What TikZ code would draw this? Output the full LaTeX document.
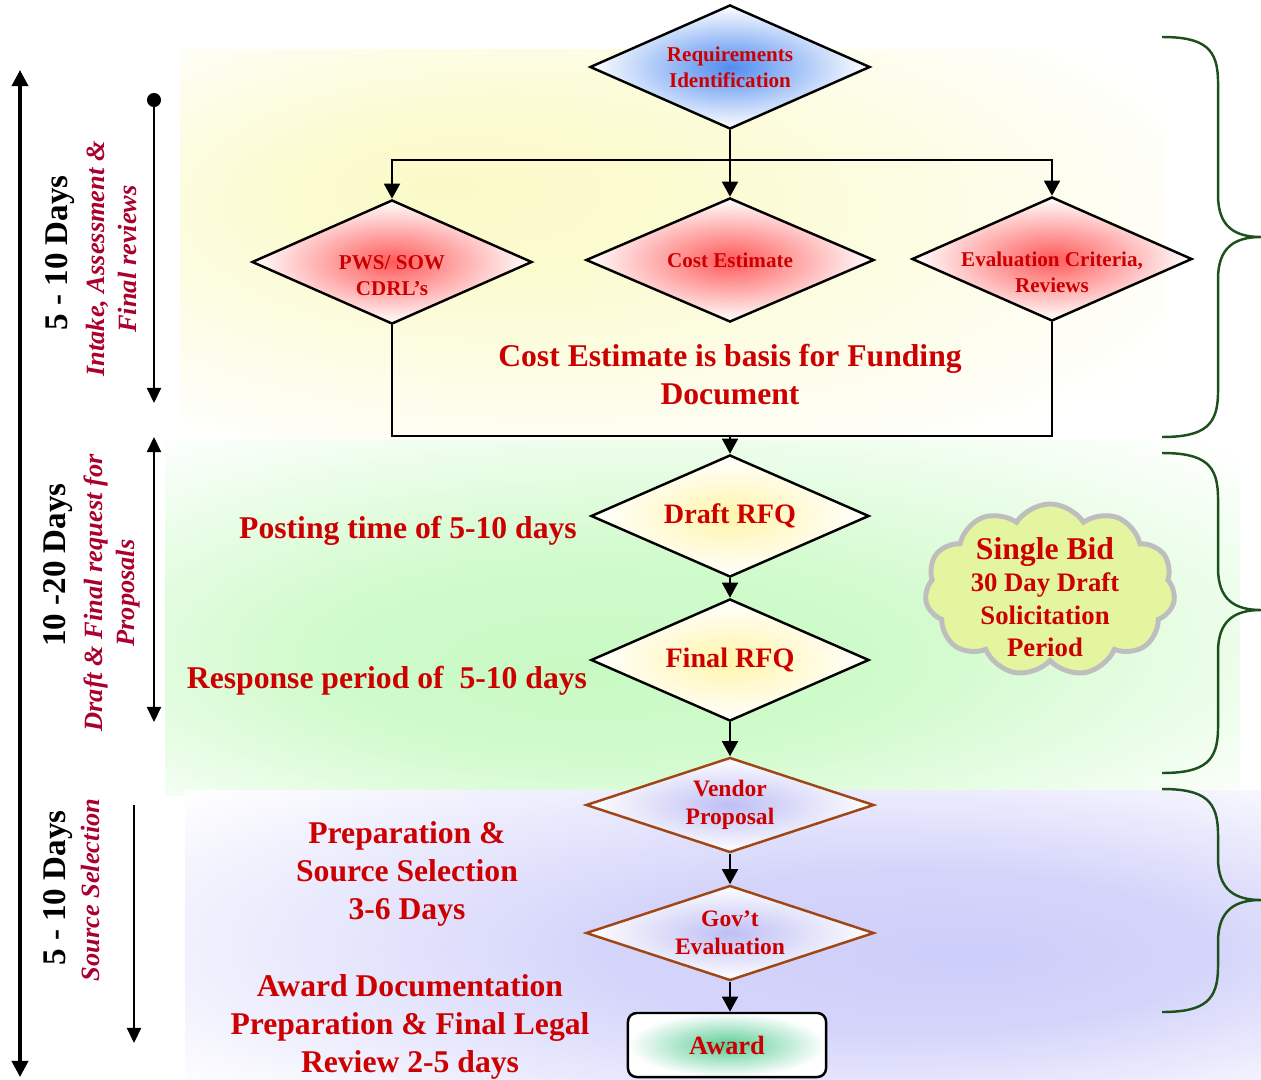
\documentclass[tikz,border=0pt]{standalone}
\usepackage{fontspec}
\setmainfont{Liberation Serif}
\usepackage{tikz}
\usetikzlibrary{shapes.geometric,shapes.symbols,arrows.meta}
\definecolor{boxred}{RGB}{204,0,0}
\definecolor{phasered}{RGB}{170,0,45}
\definecolor{bracegreen}{RGB}{30,80,30}
\definecolor{vendorbrown}{RGB}{160,70,20}
\definecolor{cloudfill}{RGB}{228,245,160}
\definecolor{cloudgray}{RGB}{190,190,190}
\definecolor{reqblue}{RGB}{80,140,240}
\definecolor{costred}{RGB}{255,90,90}
\definecolor{rfqyellow}{RGB}{255,245,170}
\definecolor{proplilac}{RGB}{190,190,245}
\definecolor{awardgreen}{RGB}{90,205,150}
\definecolor{bgyellow}{RGB}{250,250,200}
\definecolor{bggreen}{RGB}{200,250,195}
\definecolor{bgblue}{RGB}{205,205,250}
\pgfdeclareradialshading{yellowglow}{\pgfpoint{-12bp}{8bp}}{color(0bp)=(bgyellow); color(10bp)=(bgyellow!85!white); color(34bp)=(white); color(50bp)=(white)}
\pgfdeclareradialshading{greenglow}{\pgfpoint{-6bp}{-8bp}}{color(0bp)=(bggreen); color(14bp)=(bggreen!85!white); color(37bp)=(white); color(50bp)=(white)}
\pgfdeclareradialshading{blueglow}{\pgfpoint{12bp}{-4bp}}{color(0bp)=(bgblue); color(14bp)=(bgblue!85!white); color(38bp)=(white); color(50bp)=(white)}

\begin{document}
\begin{tikzpicture}[x=0.01cm, y=-0.01cm,
    dia/.style={diamond, draw=black, line width=0.7pt, inner sep=-2pt, aspect=2.26,
        minimum width=2.8cm, minimum height=1.24cm, align=center, text=boxred,
        font=\bfseries\fontsize{6}{7.4}\selectfont},
    diatext/.style={text=boxred, align=center, font=\bfseries\fontsize{6}{7.4}\selectfont},
    reqdia/.style={dia, inner color=reqblue, outer color=white},
    reddia/.style={dia, inner color=costred, outer color=white},
    rfqdia/.style={dia, minimum width=2.78cm, minimum height=1.22cm,
        inner color=rfqyellow, outer color=white,
        font=\bfseries\fontsize{8}{9.6}\selectfont},
    propdia/.style={dia, draw=vendorbrown, aspect=3.03, minimum width=2.88cm,
        minimum height=0.95cm, inner color=proplilac, outer color=white,
        font=\bfseries\fontsize{6.7}{8}\selectfont},
    awardbox/.style={draw=black, line width=0.7pt, rounded corners=2.5pt,
        minimum width=1.98cm, minimum height=0.64cm, inner color=awardgreen,
        outer color=white, text=boxred, font=\bfseries\fontsize{7.5}{9}\selectfont},
    bigred/.style={text=boxred, align=center, font=\bfseries\fontsize{9}{10.8}\selectfont},
    days/.style={rotate=90, font=\bfseries\fontsize{9.4}{11}\selectfont},
    phase/.style={rotate=90, text=phasered, align=center,
        font=\bfseries\itshape\fontsize{7.5}{9.1}\selectfont},
    flow/.style={line width=0.7pt, -{Triangle[width=4.5pt,length=4.3pt]}},
    timeline/.style={line width=1pt, {Triangle[width=4.6pt,length=4.6pt]}-{Triangle[width=4.6pt,length=4.6pt]}},
    phasearrow/.style={line width=0.65pt}
]
\useasboundingbox (0,0) rectangle (1261,1079);

% background glows
\shade[shading=yellowglow] (180,50) rectangle (1165,445);
\shade[shading=greenglow] (165,440) rectangle (1240,795);
\shade[shading=blueglow] (185,790) rectangle (1261,1079);

% flow chart
\node[reqdia] (req) at (730,67) {Requirements\\Identification};
\node[reddia] (pws) at (392,262) {};
\node[diatext] (pws-text) at (392,276) {PWS/ SOW\\CDRL’s};
\node[reddia, minimum width=2.88cm] (cost) at (730,260) {Cost Estimate};
\node[reddia] (eval) at (1052,259) {};
\node[diatext] (eval-text) at (1052,272) {Evaluation Criteria,\\Reviews};
\node[rfqdia] (draft) at (730,516) {Draft RFQ};
\node[rfqdia] (final) at (730,660) {Final RFQ};
\node[propdia] (vendor) at (730,805) {Vendor\\Proposal};
\node[propdia] (gov) at (730,933) {Gov’t\\Evaluation};
\node[awardbox] (award) at (727,1045) {Award};

\coordinate (fork) at (730,160);
\coordinate (merge) at (730,436);
\draw[line width=0.7pt] (req.south) -- (fork);
\draw[flow] (fork) -| (pws.north);
\draw[flow] (fork) -- (cost.north);
\draw[flow] (fork) -| (eval.north);
\draw[line width=0.7pt] (pws.south) |- (merge) -| (eval.south);
\draw[flow] (merge) -- (draft.north);
\draw[flow] (draft.south) -- (final.north);
\draw[flow] (final.south) -- (vendor.north);
\draw[flow] (vendor.south) -- (gov.north);
\draw[flow] (gov.south) -- (gov.south |- award.north);

% notes
\node[bigred] (funding) at (730,375) {Cost Estimate is basis for Funding\\Document};
\node[bigred] (posting) at (408,531) {Posting time of 5-10 days};
\node[bigred] (response) at (387,681) {Response period of \ 5-10 days};
\node[bigred] (prep) at (407,874) {Preparation \&\\Source Selection\\3-6 Days};
\node[bigred] (awarddoc) at (410,1027) {Award Documentation\\Preparation \& Final Legal\\Review 2-5 days};

% single bid cloud
\node[cloud, cloud puffs=11, cloud puff arc=115, aspect=1.45, draw=cloudgray,
    line width=1.4pt, fill=cloudfill, inner sep=0pt,
    minimum width=2.5cm, minimum height=1.72cm] (bid) at (1050,590) {};
\node[text=boxred, align=center, font=\bfseries\fontsize{7.6}{9.2}\selectfont]
    (bidtext) at (1045,597) {{\fontsize{9}{9.2}\selectfont Single Bid}\\30 Day Draft\\Solicitation\\Period};

% time line on the left
\coordinate (all-top) at (20,70);
\coordinate (all-bot) at (20,1077);
\draw[timeline] (all-top) -- (all-bot);
\coordinate (p1-top) at (154,100);
\coordinate (p1-bot) at (154,403);
\fill (p1-top) circle (2pt);
\draw[phasearrow, -{Triangle[width=4pt,length=4.3pt]}] (p1-top) -- (p1-bot);
\coordinate (p2-top) at (154,437);
\coordinate (p2-bot) at (154,722);
\draw[phasearrow, {Triangle[width=4pt,length=4.3pt]}-{Triangle[width=4pt,length=4.3pt]}] (p2-top) -- (p2-bot);
\coordinate (p3-top) at (134,805);
\coordinate (p3-bot) at (134,1043);
\draw[phasearrow, -{Triangle[width=4pt,length=4.3pt]}] (p3-top) -- (p3-bot);

\node[days] (days1) at (60,253) {5 - 10 Days};
\node[phase] (phase1) at (111,259) {Intake, Assessment \&\\Final reviews};
\node[days] (days2) at (58,565) {10 -20 Days};
\node[phase] (phase2) at (112,593) {Draft \& Final request for\\Proposals};
\node[days] (days3) at (58,888) {5 - 10 Days};
\node[phase] (phase3) at (91,890) {Source Selection};

% braces on the right
\foreach \top/\tip/\bot in {37/237/437, 453/610/773, 789/900/1012} {
    \draw[bracegreen, line width=0.7pt] (1162,\top)
        .. controls (1205,\top) and (1218,\top+12) .. (1218,\top+45)
        -- (1218,\tip-42)
        .. controls (1218,\tip-10) and (1235,\tip) .. (1261,\tip)
        .. controls (1235,\tip) and (1218,\tip+10) .. (1218,\tip+42)
        -- (1218,\bot-45)
        .. controls (1218,\bot-12) and (1205,\bot) .. (1162,\bot);
}
\end{tikzpicture}
\end{document}
